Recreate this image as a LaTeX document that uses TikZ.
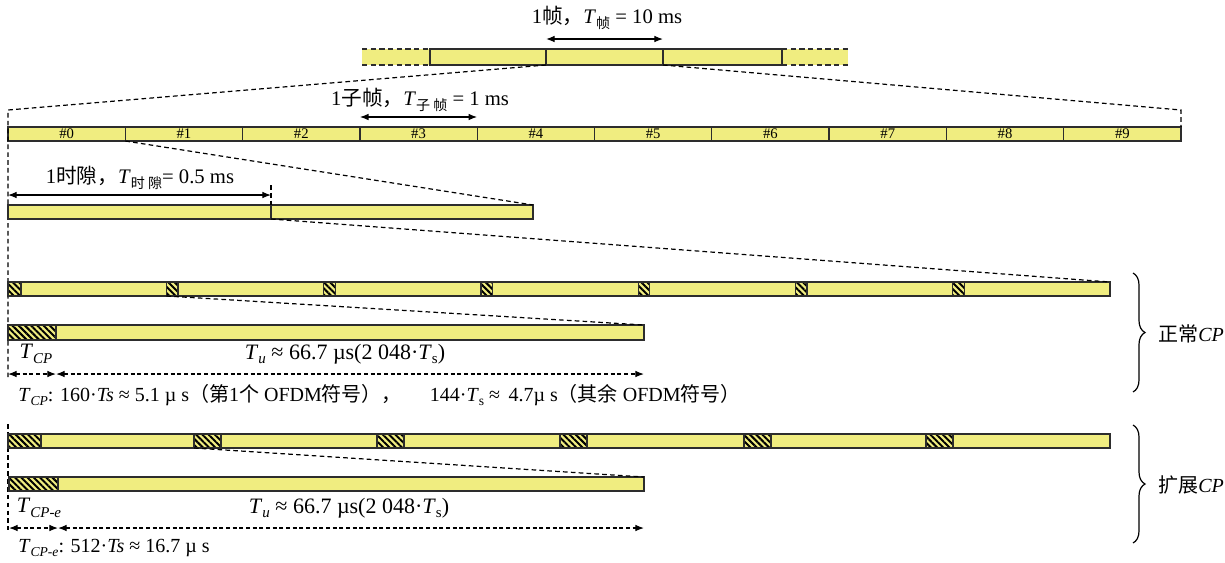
\documentclass[tikz,border=0pt]{standalone}
\usepackage{fontspec}
\setmainfont{Liberation Serif}
\newfontfamily\cjk{Noto Sans CJK SC}
\usetikzlibrary{fit,patterns.meta,decorations.pathreplacing,arrows.meta}
\definecolor{yfill}{RGB}{240,237,128}
\definecolor{bord}{RGB}{45,45,45}
\newcommand\lowsub[1]{\raisebox{-0.45ex}{\scalebox{0.68}{#1}}}
\tikzset{
  bx/.style={draw=bord, fill=yfill, line width=1pt, inner sep=0pt, outer sep=0pt},
  cpbx/.style={draw=bord, line width=1pt, inner sep=0pt, outer sep=0pt,
    preaction={fill=yfill}, pattern={Lines[angle=-45,distance=3.3pt,line width=1.5pt]}, pattern color=black},
  plainfill/.style={fill=yfill, inner sep=0pt, outer sep=0pt},
  edash/.style={line width=1.2pt, draw=bord, dash pattern=on 4pt off 2.5pt},
  zoomln/.style={line width=0.9pt, dash pattern=on 3.5pt off 2.4pt},
  dim/.style={{Latex[length=6.5pt,width=5pt]}-{Latex[length=6.5pt,width=5pt]}, line width=0.9pt},
  ddim/.style={dim, dash pattern=on 3pt off 2pt},
  lbl/.style={font=\fontsize{15.5}{18}\selectfont, inner sep=0pt},
  ulbl/.style={font=\fontsize{16.5}{19}\selectfont, inner sep=0pt},
  smalltxt/.style={font=\fontsize{15}{18}\selectfont, inner sep=0pt},
  sublbl/.style={font=\fontsize{11}{13}\selectfont, inner sep=0pt},
  bracedeco/.style={decorate, decoration={brace, amplitude=9pt}, line width=0.9pt}
}
\begin{document}
\begin{tikzpicture}[x=0.75pt,y=-0.75pt]
\useasboundingbox (0,0) rectangle (1225,562);

% ---------- frame row ----------
\node[plainfill, fit={(362,49)(430,65)}] (fl) {};
\node[plainfill, fit={(782,49)(848,65)}] (fr) {};
\node[bx, fit={(430,49)(546,65)}] (f1) {};
\node[bx, fit={(546,49)(663,65)}] (f2) {};
\node[bx, fit={(663,49)(782,65)}] (f3) {};
\draw[edash] (fl.north west) -- (fl.north east) (fl.south west) -- (fl.south east);
\draw[edash] (fr.north west) -- (fr.north east) (fr.south west) -- (fr.south east);
\draw[dim] ([yshift=7.5pt]f2.north west) -- ([yshift=7.5pt]f2.north east);
\node[lbl] (flab) at (607,18) {1{\cjk 帧，}\textit{T}\lowsub{\cjk 帧} = 10 ms};

% ---------- subframe row ----------
\foreach \i in {0,...,9}{
  \node[bx, fit={({8+117.3*\i},127)({8+117.3*(\i+1)},141)}, label={[sublbl]center:\#\i}] (s\i) {};
}
\draw[dim] ([yshift=7.5pt]s3.north west) -- ([yshift=7.5pt]s3.north east);
\node[lbl] (slab) at (420,100) {1{\cjk 子帧，}\textit{T}\lowsub{\cjk 子 帧} = 1 ms};

\coordinate (zl) at (8,110);
\coordinate (zr) at (1181,110);
\coordinate (zlb) at (8,377);
\coordinate (zlc) at (8,424);
\coordinate (zld) at (8,530);
\draw[zoomln] (f2.south west) -- (zl) -- (zlb);
\draw[zoomln] (zlc) -- (zld);
\draw[zoomln] (f2.south east) -- (zr) -- (s9.north east);

% ---------- slot row ----------
\node[bx, fit={(8,205)(271,219)}] (t1) {};
\node[bx, fit={(271,205)(533,219)}] (t2) {};
\draw[dim] ([yshift=7.5pt]t1.north west) -- ([yshift=7.5pt]t1.north east);
\draw[zoomln] ([yshift=15pt]t2.north west) -- (t2.north west);
\draw[zoomln] (s1.south west) -- (t2.north east);
\node[lbl] (tlab) at (140,178) {1{\cjk 时隙，}\textit{T}\lowsub{\cjk 时 隙}= 0.5 ms};

% ---------- normal CP ----------
\foreach \a/\c/\b [count=\k] in {8/21/166.4, 166.4/177.9/323.7, 323.7/335.2/481, 481/492.5/638.3, 638.3/649.8/795.6, 795.6/807.1/952.8, 952.8/964.3/1110}{
  \node[cpbx, fit={(\a,282)(\c,296)}] (nc\k) {};
  \node[bx, fit={(\c,282)(\b,296)}] (nb\k) {};
}
\draw[zoomln] (t1.south east) -- (nb7.north east);

\node[cpbx, fit={(8,325)(56,340)}] (oc) {};
\node[bx, fit={(56,325)(644,340)}] (ob) {};
\draw[zoomln] (nc2.south west) -- (ob.north east);

\node[ulbl] (tcp) at (36,354) {\textit{T}\lowsub{\textit{CP}}};
\node[ulbl] (tu1) at (345,354) {\textit{T}\lowsub{\textit{u}} ≈ 66.7 µs(2 048·\textit{T}\lowsub{s})};
\coordinate (ay) at (0,374);
\draw[ddim] (oc.west |- ay) -- (oc.east |- ay);
\draw[ddim] (ob.west |- ay) -- (ob.east |- ay);
\node[smalltxt, anchor=west] (ntxt) at (18,395) {\textit{T}\lowsub{\textit{CP}}: 160·\textit{Ts} ≈ 5.1 µ s{\cjk （第}1{\cjk 个} OFDM{\cjk 符号），}\hspace{1.4em}144·\textit{T}\lowsub{s} ≈ \,4.7µ s{\cjk （其余} OFDM{\cjk 符号）}};

% ---------- extended CP ----------
\foreach \a/\c/\b [count=\k] in {8/41/194, 194/221/377, 377/404/560, 560/587/744, 744/771/926, 926/953/1110}{
  \node[cpbx, fit={(\a,434)(\c,448)}] (ec\k) {};
  \node[bx, fit={(\c,434)(\b,448)}] (eb\k) {};
}
\node[cpbx, fit={(9,477)(58,491)}] (pc) {};
\node[bx, fit={(58,477)(644,491)}] (pb) {};
\draw[zoomln] (ec2.south west) -- (pb.north east);

\node[ulbl] (tcpe) at (39,508) {\textit{T}\lowsub{\textit{CP-e}}};
\node[ulbl] (tu2) at (349,508) {\textit{T}\lowsub{\textit{u}} ≈ 66.7 µs(2 048·\textit{T}\lowsub{s})};
\coordinate (ay2) at (0,528);
\draw[ddim] (pc.west |- ay2) -- (pc.east |- ay2);
\draw[ddim] (pb.west |- ay2) -- (pb.east |- ay2);
\node[smalltxt, anchor=west] (etxt) at (18,548) {\textit{T}\lowsub{\textit{CP-e}}: 512·\textit{Ts} ≈ 16.7 µ s};

% ---------- braces ----------
\coordinate (b1t) at (1133,273);
\coordinate (b1b) at (1133,392);
\coordinate (b2t) at (1133,425);
\coordinate (b2b) at (1133,543);
\draw[bracedeco] (b1t) -- (b1b);
\draw[bracedeco] (b2t) -- (b2b);
\node[smalltxt, anchor=west] (bl1) at (1158,334) {{\cjk 正常}\textit{CP}};
\node[smalltxt, anchor=west] (bl2) at (1158,485) {{\cjk 扩展}\textit{CP}};
\end{tikzpicture}
\end{document}
